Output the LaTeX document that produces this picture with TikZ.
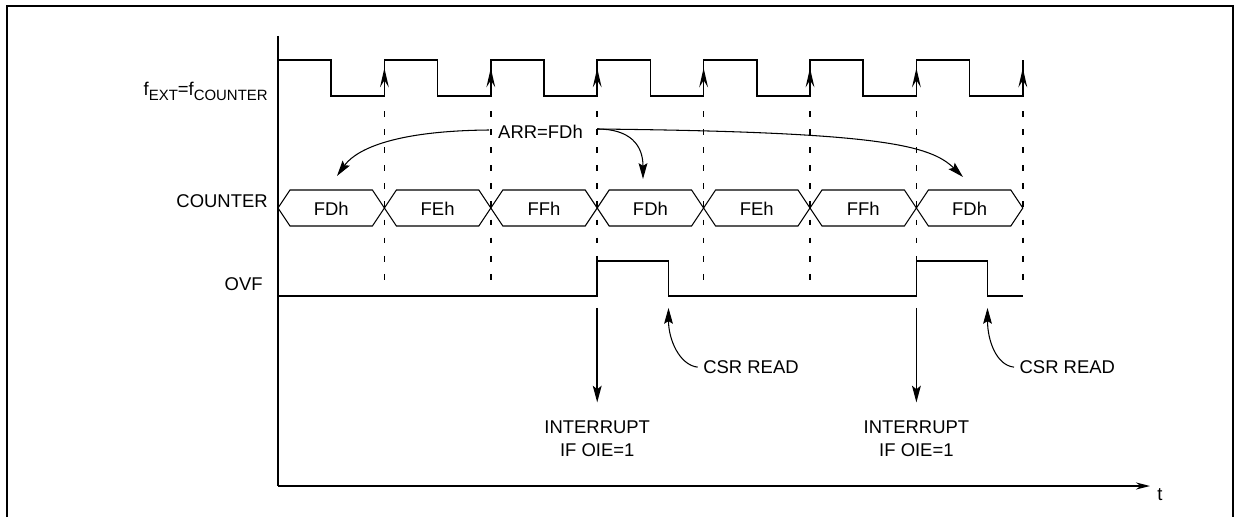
\documentclass[tikz,border=0pt]{standalone}
\usepackage{fontspec}
\setmainfont{Liberation Sans}
\usetikzlibrary{arrows.meta}

\newcommand{\lowsub}[1]{\raisebox{-3.4pt}{\fontsize{8.5}{10}\selectfont #1}}

\tikzset{
  signal/.style={line width=1pt},
  bus/.style={line width=0.6pt},
  guide/.style={line width=0.9pt, dash pattern=on 3.3pt off 7pt},
  frame/.style={line width=1.1pt},
  edgearrow/.style={line width=1pt, -{Stealth[length=11pt,width=5pt,inset=4pt]}},
  pointer/.style={line width=0.6pt, -{Stealth[length=9pt,width=5pt,inset=1.5pt]}},
  irq/.style={line width=1pt, -{Stealth[length=9.5pt,width=5pt,inset=2pt]}},
  lbl/.style={font=\fontsize{10.5}{13.6}\selectfont, inner sep=0pt},
}

\begin{document}
\begin{tikzpicture}[x=0.02cm, y=-0.02cm]
            \useasboundingbox (0,0) rectangle (1239,517);
            % Cadre
            \draw[frame] (7,517) -- (7,6) -- (1233,6) -- (1233,517);

            % Axes
            \draw[signal] (278,36) -- (278,486);
            \draw[signal, -{Stealth[length=8pt,width=4pt]}] (278,486) -- (1150,486);
            \node[lbl, anchor=base west] (tlab) at (1157,500) {t};

            % Noms des signaux
            \node[lbl, anchor=base east] (fext) at (268,95) {f\lowsub{EXT}=f\lowsub{COUNTER}};
            \node[lbl, anchor=base east] (cnt) at (268,207) {COUNTER};
            \node[lbl, anchor=base east] (ovf) at (263,290) {OVF};

            % Horloge
            \draw[signal] (278,60) \foreach \k in {0,...,6} { -- ++(53.2,0) -- ++(0,36) -- ++(53.2,0) -- ++(0,-36) };
            \foreach \k in {1,...,7}
                \draw[edgearrow] (278+106.4*\k,96) -- (278+106.4*\k,68);

            % Lignes de repere
            \foreach \k in {1,...,7}
                \draw[guide] (278+106.4*\k,111) -- (278+106.4*\k,284);

            % Compteur
            \foreach \v [count=\k from 0] in {FDh,FEh,FFh,FDh,FEh,FFh,FDh} {
                \draw[bus] (278+106.4*\k,208) -- ++(12,-18) -- ++(82.4,0) -- ++(12,18) -- ++(-12,18) -- ++(-82.4,0) -- cycle;
                \node[lbl, anchor=base] (val\k) at (331.2+106.4*\k,215.5) {\v};
            }

            % Debordement (OVF)
            \coordinate (up1) at (597.2,296);
            \coordinate (rd1) at (668.5,296);
            \coordinate (up2) at (916.4,296);
            \coordinate (rd2) at (987.5,296);
            \draw[signal] (278,296) -- (up1) -- ++(0,-35) -| (rd1) -- (up2) -- ++(0,-35) -| (rd2) -- (1022.8,296);

            % Rechargement ARR
            \node[lbl, anchor=base] (arr) at (540.5,138) {ARR=FDh};
            \coordinate (arrL) at (489,130);
            \coordinate (arrR) at (597.2,129);
            \coordinate (tip0) at (337,176);
            \coordinate (tip3) at (643,179);
            \coordinate (tip6) at (963,177);
            \draw[pointer] (arrL) .. controls (380,131) and (352,155) .. (tip0);
            \draw[pointer] (arrR) .. controls (630,129) and (643,145) .. (tip3);
            \draw[pointer] (arrR) .. controls (880,132) and (930,145) .. (tip6);

            % Interruptions
            \node[lbl, align=center, anchor=north] (int1) at (597.2,420) {INTERRUPT\\IF OIE=1};
            \node[lbl, align=center, anchor=north] (int2) at (916.4,420) {INTERRUPT\\IF OIE=1};
            \draw[irq, shorten >=10pt] ([yshift=-6.8pt]up1) -- (int1.north);
            \draw[irq, shorten >=10pt] ([yshift=-6.8pt]up2) -- (int2.north);

            % Lecture CSR
            \node[lbl, inner sep=3pt, anchor=base west] (csr1) at (697.7,373.5) {CSR READ};
            \node[lbl, inner sep=3pt, anchor=base west] (csr2) at (1014,373.5) {CSR READ};
            \draw[pointer] (csr1.west) .. controls +(-18,-2) and +(0,32) .. ([yshift=-6.8pt]rd1);
            \draw[pointer] (csr2.west) .. controls +(-18,-2) and +(0,32) .. ([yshift=-6.8pt]rd2);
        \end{tikzpicture}
\end{document}
